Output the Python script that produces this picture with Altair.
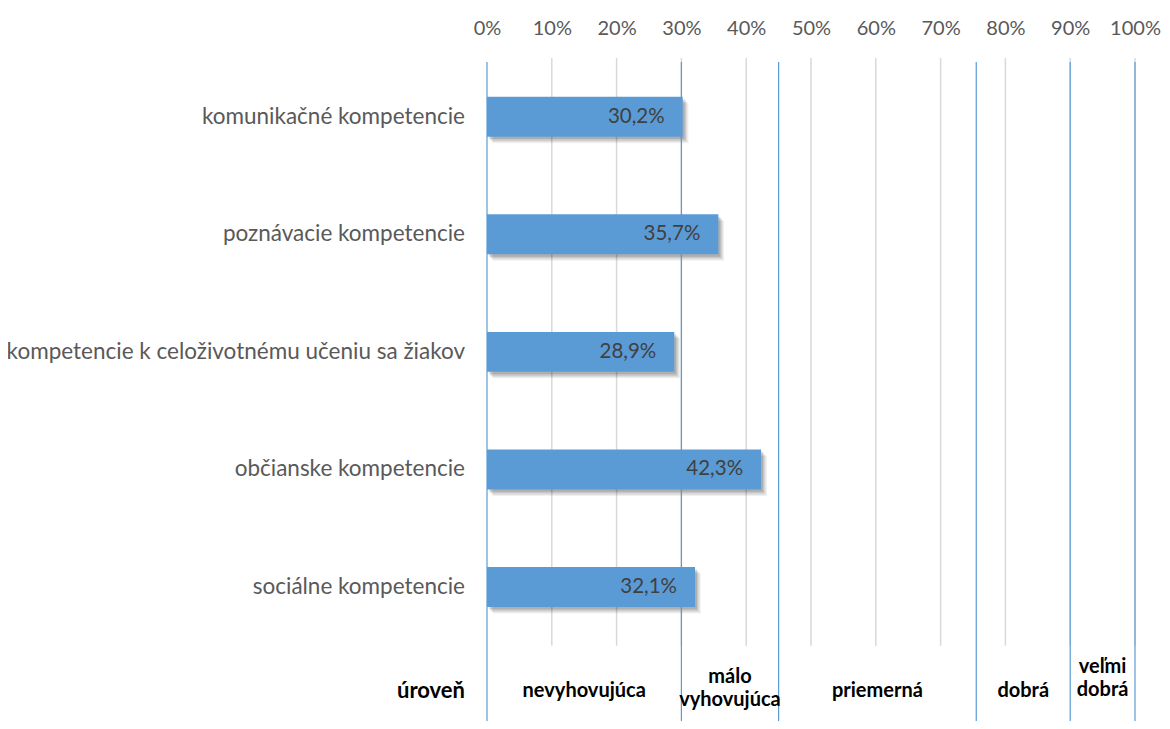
import altair as alt
import pandas as pd

categories = [
    "komunikačné kompetencie",
    "poznávacie kompetencie",
    "kompetencie k celoživotnému učeniu sa žiakov",
    "občianske kompetencie",
    "sociálne kompetencie",
]
values = [30.2, 35.7, 28.9, 42.3, 32.1]
value_labels = ["30,2%", "35,7%", "28,9%", "42,3%", "32,1%"]
x_ticks = [0, 10, 20, 30, 40, 50, 60, 70, 80, 90, 100]
level_bounds = [0, 30, 45, 75.5, 90, 100]
level_names = ["nevyhovujúca", "málo\nvyhovujúca", "priemerná", "dobrá", "veľmi\ndobrá"]
level_header = "úroveň"

FONT = "Lato"
BAR_COLOR = "#5B9BD5"
Y_MAX = 5.64
LEVEL_ROW = 5.384
BAR_HALF = 0.17

bars = pd.DataFrame({
    "cat": categories,
    "value": values,
    "label": value_labels,
    "row": list(range(len(categories))),
})
grid = pd.DataFrame({"x": x_ticks[1:]})
bounds = pd.DataFrame({"x": level_bounds})
levels = pd.DataFrame({
    "lo": level_bounds[:-1],
    "hi": level_bounds[1:],
    "name": level_names,
})
levels["mid"] = (levels["lo"] + levels["hi"]) / 2
header = pd.DataFrame({"t": [level_header]})

xs = alt.Scale(domain=[0, 100], nice=False, zero=False)
ys = alt.Scale(domain=[0, Y_MAX], reverse=True, nice=False, zero=False)
XAX = alt.Axis(
    orient="top", values=x_ticks, labelExpr="datum.value + '%'",
    grid=False, domain=False, ticks=False, labelPadding=20,
    labelOverlap=False, labelFlush=False,
    labelFont=FONT, labelFontSize=20, labelColor="#595959", title=None)


def X(field):
    return alt.X(field, scale=xs, axis=XAX)


def Y(field):
    return alt.Y(field, scale=ys, axis=None)


grid_layer = alt.Chart(grid).transform_calculate(
    ya="0", yb="5"
).mark_rule(color="#d9d9d9", strokeWidth=1.5).encode(
    x=X("x:Q"), y=Y("ya:Q"), y2="yb:Q",
)

bound_layer = alt.Chart(bounds).transform_calculate(
    ya="0.035", yb=str(Y_MAX)
).mark_rule(color=BAR_COLOR, strokeWidth=1.2).encode(
    x=X("x:Q"), y=Y("ya:Q"), y2="yb:Q",
)

base_bars = alt.Chart(bars).transform_calculate(
    y0=f"datum.row + 0.5 - {BAR_HALF}",
    y1=f"datum.row + 0.5 + {BAR_HALF}",
    pos="datum.row + 0.5",
    zero="0",
)


def shadow(dx, dy, op):
    return base_bars.transform_calculate(
        sx0=f"{dx}", sx1=f"datum.value + {dx}",
        sy0=f"datum.y0 + {dy}", sy1=f"datum.y1 + {dy}",
    ).mark_rect(color="#000000", opacity=op).encode(
        x=X("sx0:Q"), x2="sx1:Q", y=Y("sy0:Q"), y2="sy1:Q",
    )


shadows = [
    shadow(0.9, 0.055, 0.06),
    shadow(0.7, 0.045, 0.08),
    shadow(0.5, 0.032, 0.10),
    shadow(0.3, 0.02, 0.12),
]

bar_layer = base_bars.mark_rect(color=BAR_COLOR).encode(
    x=X("zero:Q"), x2="value:Q", y=Y("y0:Q"), y2="y1:Q",
)

bar_text = base_bars.mark_text(
    align="right", baseline="middle", dx=-18, font=FONT, fontSize=20.5, color="#404040"
).encode(
    x=X("value:Q"), y=Y("pos:Q"), text=alt.Text("label:N"),
)
cat_text = base_bars.mark_text(
    align="right", baseline="middle", dx=-22, font=FONT, fontSize=22.5, color="#595959"
).encode(
    x=X("zero:Q"), y=Y("pos:Q"), text=alt.Text("cat:N"),
)

levels_base = alt.Chart(levels).transform_calculate(
    yr=str(LEVEL_ROW), nl="indexof(datum.name, '\\n') >= 0 ? 1 : 0"
)


def level_layer(flt, dy):
    return levels_base.transform_filter(flt).mark_text(
        align="center", baseline="middle", font=FONT, fontSize=20, fontWeight="bold",
        color="#000000", lineHeight=23, lineBreak="\n", dy=dy
    ).encode(
        x=X("mid:Q"), y=Y("yr:Q"), text=alt.Text("name:N"),
    )


level_one = level_layer("datum.nl == 0", 0)
level_mid = level_layer("datum.nl == 1 && datum.lo < 80", -14)
level_high = level_layer("datum.nl == 1 && datum.lo >= 80", -24)

header_text = alt.Chart(header).transform_calculate(
    yr=str(LEVEL_ROW), zero="0"
).mark_text(
    align="right", baseline="middle", dx=-22, font=FONT, fontSize=22, fontWeight="bold",
    color="#000000"
).encode(
    x=X("zero:Q"), y=Y("yr:Q"), text=alt.Text("t:N"),
)

chart = alt.layer(
    grid_layer, *shadows, bar_layer, bound_layer, bar_text, cat_text,
    level_one, level_mid, level_high, header_text,
).properties(
    width=648, height=663,
    autosize=alt.AutoSizeParams(type="none"),
    padding={"left": 479, "top": 50, "right": 27, "bottom": 0},
).configure_view(stroke=None)

chart.save("out.html", embed_options={"renderer": "svg", "actions": False})
